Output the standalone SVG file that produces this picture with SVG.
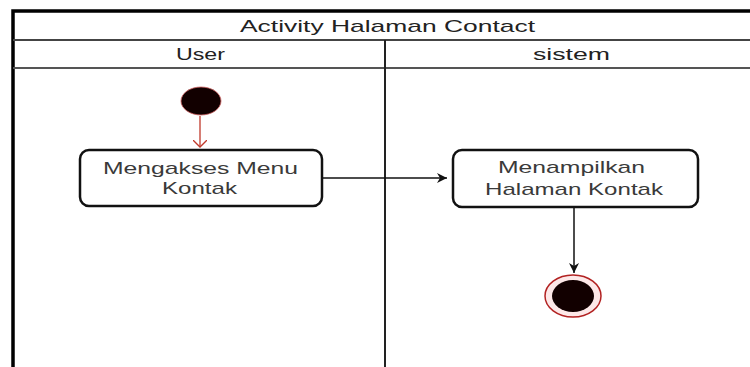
<svg xmlns="http://www.w3.org/2000/svg" width="750" height="367" viewBox="0 0 750 367">
  <style>
    .frame { fill: none; stroke: #000; }
    .lbl { font-family: "Liberation Sans", Arial, sans-serif; font-size: 17px; fill: #3a3a3a; }
    .hdr { font-family: "Liberation Sans", Arial, sans-serif; font-size: 17px; fill: #222; }
    .act { fill: #fff; stroke: #111; stroke-width: 2.5; }
    .edge { fill: none; stroke: #111; stroke-width: 1.5; }
  </style>
  <defs>
    <marker id="arrowBlack" markerWidth="12" markerHeight="12" refX="10" refY="5" orient="auto" markerUnits="userSpaceOnUse">
      <path d="M0,0 L10,5 L0,10 L3,5 Z" fill="#111"/>
    </marker>
    <marker id="arrowRed" markerWidth="14" markerHeight="14" refX="7" refY="7" orient="auto" markerUnits="userSpaceOnUse">
      <path d="M0,0 L7,7 L0,14" fill="none" stroke="#c0392b" stroke-width="1.3"/>
    </marker>
  </defs>

  <rect width="750" height="367" fill="#fff"/>

  <!-- swimlane pool -->
  <g id="pool">
    <path d="M13,372 V11 H760" class="frame" stroke-width="3.5"/>
    <line x1="13" y1="40" x2="760" y2="40" stroke="#444" stroke-width="1.8"/>
    <line x1="13" y1="68" x2="760" y2="68" stroke="#555" stroke-width="1.8"/>
    <line x1="385" y1="40" x2="385" y2="372" stroke="#222" stroke-width="2"/>
    <text x="240" y="32" class="hdr" textLength="295" lengthAdjust="spacingAndGlyphs">Activity Halaman Contact</text>
    <text x="176" y="60" class="hdr" textLength="49" lengthAdjust="spacingAndGlyphs">User</text>
    <text x="533" y="60" class="hdr" textLength="77" lengthAdjust="spacingAndGlyphs">sistem</text>
  </g>

  <!-- connectors -->
  <g id="connectors">
    <line x1="200" y1="116" x2="200" y2="147" stroke="#c0392b" stroke-width="1.3" marker-end="url(#arrowRed)"/>
    <line x1="322" y1="178" x2="447" y2="178" class="edge" marker-end="url(#arrowBlack)"/>
    <line x1="574" y1="208" x2="574" y2="273" class="edge" marker-end="url(#arrowBlack)"/>
  </g>

  <g id="start">
    <ellipse cx="201" cy="101" rx="20" ry="14" fill="#120000" stroke="#d06060" stroke-width="0.8"/>
  </g>

  <g id="akses-menu">
    <rect x="80" y="150" width="242" height="56" rx="9" class="act"/>
    <text x="103" y="174" class="lbl" textLength="195" lengthAdjust="spacingAndGlyphs">Mengakses Menu</text>
    <text x="162" y="194" class="lbl" textLength="75" lengthAdjust="spacingAndGlyphs">Kontak</text>
  </g>

  <g id="tampil-halaman">
    <rect x="453" y="150" width="245" height="57" rx="9" class="act"/>
    <text x="498" y="173" class="lbl" textLength="147" lengthAdjust="spacingAndGlyphs">Menampilkan</text>
    <text x="485" y="195" class="lbl" textLength="178" lengthAdjust="spacingAndGlyphs">Halaman Kontak</text>
  </g>

  <g id="end">
    <ellipse cx="573" cy="296" rx="28" ry="21" fill="#fde8e8" stroke="#b22222" stroke-width="1.5"/>
    <ellipse cx="573" cy="296" rx="21" ry="16" fill="#120000"/>
  </g>
</svg>
